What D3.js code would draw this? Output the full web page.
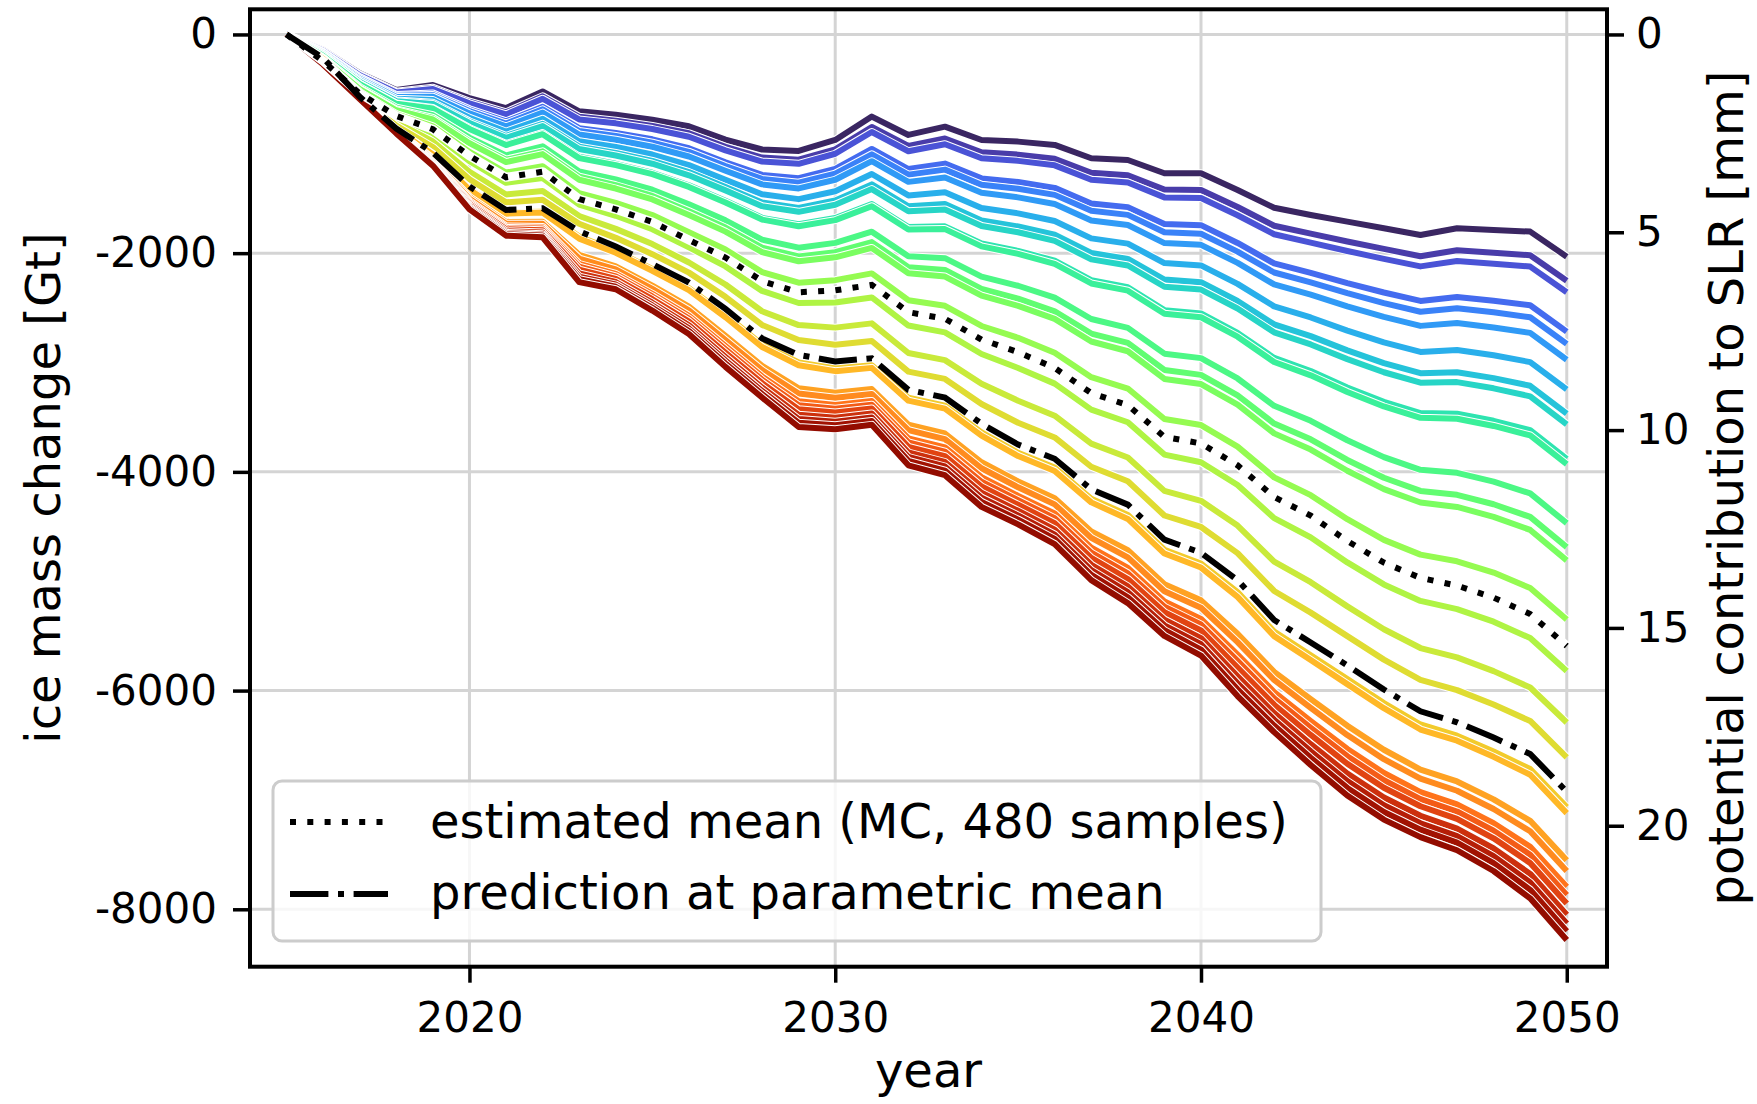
<!DOCTYPE html>
<html>
<head>
<meta charset="utf-8">
<script src="https://cdn.jsdelivr.net/npm/d3@7"></script>
<style>
  body { margin: 0; background: #fff; }
  svg text { font-family: "DejaVu Sans", sans-serif; fill: #000; }
</style>
</head>
<body>
<svg id="chart" width="1757" height="1104"></svg>
<script>
// years of the projection
var years = [2015,2016,2017,2018,2019,2020,2021,2022,2023,2024,2025,2026,2027,2028,2029,2030,2031,2032,
             2033,2034,2035,2036,2037,2038,2039,2040,2041,2042,2043,2044,2045,2046,2047,2048,2049,2050];

// tick labels
var yearTicks = [2020, 2030, 2040, 2050];
var gtTicks = [0, -2000, -4000, -6000, -8000];
var mmTicks = [0, 5, 10, 15, 20];
var GT_PER_MM = 361.8;

// ensemble members, ice mass change [Gt], top (least loss) to bottom
var run01 = [0,-140,-355,-508,-462,-582,-673,-521,-703,-734,-779,-840,-961,-1052,-1065,-965,-751,-919,-843,-965,-980,-1010,-1132,-1148,-1269,-1269,-1422,-1585,-1651,-1712,-1772,-1834,-1772,-1788,-1803,-2032];
var run02 = [0,-147,-366,-523,-487,-615,-712,-566,-753,-788,-837,-904,-1028,-1126,-1145,-1050,-846,-1019,-952,-1078,-1099,-1136,-1265,-1287,-1418,-1422,-1578,-1749,-1821,-1893,-1961,-2028,-1974,-1996,-2019,-2252];
var run03 = [0,-150,-372,-530,-499,-630,-731,-588,-777,-813,-865,-935,-1060,-1162,-1183,-1091,-892,-1068,-1004,-1132,-1156,-1197,-1329,-1353,-1490,-1495,-1653,-1827,-1903,-1980,-2052,-2121,-2071,-2096,-2123,-2358];
var run04 = [0,-160,-391,-554,-540,-684,-795,-662,-857,-900,-959,-1040,-1169,-1284,-1314,-1230,-1047,-1231,-1181,-1316,-1350,-1403,-1545,-1579,-1733,-1744,-1907,-2094,-2180,-2274,-2360,-2437,-2401,-2435,-2476,-2717];
var run05 = [0,-164,-396,-561,-553,-700,-815,-685,-883,-928,-989,-1073,-1203,-1321,-1355,-1273,-1096,-1282,-1236,-1374,-1411,-1467,-1613,-1650,-1809,-1822,-1986,-2177,-2267,-2366,-2457,-2536,-2504,-2541,-2586,-2829];
var run06 = [0,-168,-404,-571,-569,-722,-841,-715,-915,-963,-1027,-1116,-1247,-1371,-1408,-1329,-1159,-1348,-1308,-1448,-1490,-1550,-1701,-1742,-1908,-1924,-2089,-2286,-2379,-2486,-2582,-2665,-2638,-2679,-2729,-2975];
var run07 = [0,-176,-418,-589,-600,-762,-889,-771,-977,-1029,-1098,-1195,-1329,-1462,-1506,-1434,-1276,-1472,-1442,-1587,-1636,-1706,-1865,-1913,-2091,-2112,-2281,-2487,-2588,-2708,-2815,-2903,-2886,-2934,-2996,-3246];
var run08 = [0,-182,-430,-604,-625,-795,-928,-817,-1026,-1083,-1156,-1259,-1396,-1537,-1586,-1519,-1371,-1572,-1551,-1701,-1756,-1832,-1998,-2052,-2241,-2265,-2437,-2651,-2759,-2889,-3005,-3098,-3089,-3143,-3213,-3467];
var run09 = [0,-185,-435,-610,-636,-809,-946,-837,-1048,-1107,-1182,-1288,-1426,-1570,-1622,-1557,-1414,-1617,-1600,-1751,-1809,-1888,-2057,-2113,-2307,-2333,-2506,-2724,-2835,-2969,-3089,-3184,-3179,-3236,-3309,-3565];
var run10 = [0,-195,-451,-631,-672,-856,-1002,-902,-1119,-1183,-1265,-1380,-1521,-1677,-1736,-1679,-1550,-1761,-1755,-1912,-1979,-2069,-2247,-2312,-2521,-2552,-2729,-2958,-3078,-3228,-3359,-3462,-3468,-3533,-3618,-3880];
var run11 = [0,-196,-454,-634,-678,-864,-1011,-912,-1131,-1195,-1278,-1394,-1536,-1693,-1754,-1698,-1571,-1783,-1780,-1938,-2006,-2098,-2277,-2343,-2554,-2586,-2764,-2995,-3117,-3269,-3402,-3506,-3514,-3580,-3667,-3930];
var run12 = [0,-212,-482,-670,-739,-943,-1106,-1023,-1252,-1326,-1420,-1552,-1700,-1876,-1950,-1906,-1804,-2029,-2046,-2214,-2298,-2406,-2602,-2683,-2919,-2960,-3146,-3396,-3533,-3711,-3865,-3981,-4009,-4089,-4197,-4469];
var run13 = [0,-218,-493,-685,-764,-976,-1145,-1069,-1301,-1379,-1477,-1616,-1766,-1950,-2030,-1991,-1899,-2128,-2154,-2327,-2416,-2532,-2735,-2821,-3068,-3113,-3301,-3558,-3702,-3891,-4054,-4174,-4210,-4296,-4412,-4688];
var run14 = [0,-222,-499,-693,-778,-994,-1167,-1094,-1329,-1409,-1509,-1651,-1803,-1991,-2074,-2038,-1952,-2184,-2214,-2389,-2482,-2601,-2808,-2897,-3150,-3197,-3386,-3648,-3796,-3990,-4158,-4280,-4321,-4411,-4531,-4809];
var run15 = [0,-238,-527,-729,-840,-1074,-1263,-1205,-1451,-1540,-1651,-1809,-1967,-2173,-2270,-2247,-2185,-2430,-2481,-2666,-2774,-2911,-3134,-3238,-3516,-3572,-3769,-4050,-4213,-4433,-4622,-4757,-4818,-4921,-5062,-5350];
var run16 = [0,-240,-545,-765,-904,-1158,-1357,-1313,-1556,-1658,-1781,-1947,-2121,-2345,-2456,-2452,-2405,-2662,-2724,-2922,-3050,-3193,-3431,-3546,-3842,-3912,-4120,-4423,-4599,-4828,-5029,-5180,-5255,-5370,-5520,-5821];
var run17 = [0,-229,-556,-805,-979,-1257,-1463,-1431,-1660,-1778,-1917,-2085,-2287,-2531,-2658,-2681,-2642,-2913,-2978,-3194,-3349,-3486,-3742,-3868,-4174,-4265,-4491,-4820,-5009,-5230,-5439,-5611,-5696,-5822,-5972,-6292];
var run18 = [0,-222,-563,-833,-1030,-1324,-1535,-1511,-1731,-1860,-2009,-2178,-2399,-2656,-2795,-2837,-2803,-3083,-3150,-3379,-3551,-3685,-3953,-4086,-4399,-4504,-4743,-5089,-5287,-5502,-5717,-5903,-5996,-6128,-6278,-6611];
var run19 = [0,-221,-572,-865,-1093,-1412,-1630,-1618,-1848,-1981,-2144,-2319,-2565,-2836,-2999,-3055,-3024,-3322,-3394,-3639,-3826,-3961,-4246,-4394,-4712,-4838,-5100,-5461,-5677,-5894,-6114,-6310,-6412,-6557,-6717,-7066];
var run20 = [0,-224,-573,-867,-1097,-1420,-1639,-1628,-1867,-1996,-2161,-2338,-2586,-2858,-3025,-3079,-3049,-3349,-3422,-3669,-3855,-3992,-4279,-4430,-4747,-4875,-5143,-5502,-5721,-5941,-6161,-6356,-6458,-6606,-6770,-7120];
var run21 = [0,-243,-579,-881,-1136,-1487,-1714,-1713,-2015,-2121,-2297,-2488,-2755,-3030,-3235,-3277,-3243,-3569,-3649,-3912,-4088,-4241,-4544,-4716,-5027,-5175,-5481,-5829,-6078,-6321,-6541,-6722,-6831,-6995,-7191,-7552];
var run22 = [0,-247,-581,-884,-1144,-1502,-1731,-1732,-2049,-2149,-2327,-2522,-2794,-3069,-3283,-3322,-3287,-3619,-3700,-3967,-4141,-4297,-4604,-4782,-5091,-5243,-5557,-5903,-6159,-6407,-6627,-6805,-6916,-7083,-7286,-7650];
var run23 = [0,-254,-583,-889,-1157,-1525,-1756,-1760,-2099,-2190,-2373,-2572,-2850,-3127,-3354,-3388,-3352,-3693,-3776,-4048,-4219,-4381,-4693,-4878,-5185,-5344,-5671,-6013,-6279,-6534,-6754,-6928,-7041,-7213,-7428,-7795];
var run24 = [0,-257,-584,-891,-1164,-1537,-1769,-1775,-2124,-2212,-2396,-2598,-2880,-3157,-3390,-3422,-3386,-3731,-3815,-4090,-4259,-4424,-4739,-4928,-5234,-5396,-5729,-6070,-6341,-6600,-6820,-6992,-7106,-7281,-7501,-7870];
var run25 = [0,-260,-585,-894,-1171,-1549,-1782,-1790,-2151,-2235,-2421,-2625,-2910,-3188,-3428,-3458,-3421,-3771,-3856,-4134,-4301,-4469,-4787,-4980,-5284,-5450,-5790,-6129,-6406,-6669,-6889,-7058,-7173,-7351,-7577,-7948];
var run26 = [0,-265,-587,-897,-1180,-1564,-1800,-1810,-2186,-2264,-2453,-2660,-2950,-3228,-3478,-3505,-3467,-3823,-3910,-4191,-4356,-4528,-4849,-5047,-5351,-5521,-5870,-6206,-6490,-6758,-6978,-7145,-7262,-7443,-7676,-8050];
var run27 = [0,-268,-588,-900,-1187,-1577,-1814,-1826,-2214,-2287,-2478,-2688,-2981,-3260,-3517,-3541,-3503,-3864,-3951,-4236,-4399,-4574,-4898,-5100,-5403,-5576,-5933,-6266,-6556,-6828,-7048,-7213,-7331,-7515,-7754,-8130];
var run28 = [0,-272,-589,-902,-1193,-1588,-1826,-1839,-2238,-2307,-2500,-2712,-3009,-3288,-3551,-3573,-3534,-3899,-3988,-4275,-4437,-4614,-4941,-5147,-5448,-5625,-5988,-6320,-6614,-6890,-7110,-7272,-7391,-7578,-7822,-8200];
var run29 = [0,-275,-590,-905,-1200,-1600,-1840,-1855,-2265,-2330,-2525,-2740,-3040,-3320,-3590,-3610,-3570,-3940,-4030,-4320,-4480,-4660,-4990,-5200,-5500,-5680,-6050,-6380,-6680,-6960,-7180,-7340,-7460,-7650,-7900,-8280];

// estimated mean (MC) and prediction at parametric mean
var meanMC = [0,-245,-540,-745,-867,-1110,-1306,-1255,-1505,-1599,-1715,-1880,-2040,-2255,-2358,-2340,-2290,-2540,-2600,-2790,-2905,-3050,-3280,-3390,-3680,-3740,-3940,-4230,-4400,-4632,-4830,-4970,-5040,-5150,-5300,-5592];
var paramMean = [0,-215,-570,-860,-1080,-1390,-1605,-1590,-1800,-1940,-2100,-2270,-2510,-2780,-2930,-2990,-2961,-3250,-3320,-3560,-3750,-3880,-4160,-4300,-4620,-4740,-4990,-5354,-5560,-5770,-5990,-6190,-6290,-6430,-6580,-6925];

var runs = [run01,run02,run03,run04,run05,run06,run07,run08,run09,run10,run11,run12,run13,run14,run15,
            run16,run17,run18,run19,run20,run21,run22,run23,run24,run25,run26,run27,run28,run29];

var svg = d3.select("#chart");
var plotLeft = 250, plotRight = 1607, plotTop = 9.3, plotBottom = 966.7;

var x = d3.scaleLinear().domain([2014, 2051.1]).range([plotLeft, plotRight]);
var y = d3.scaleLinear().domain([230, -8525]).range([plotTop, plotBottom]);
var yMM = d3.scaleLinear().domain([-230 / GT_PER_MM, 8525 / GT_PER_MM]).range([plotTop, plotBottom]);

var colorT = d3.scaleLinear().domain([0, runs.length - 1]).range([0.025, 0.975]);

// grid
var grid = svg.append("g");
grid.selectAll(".gx").data(yearTicks).enter().append("line")
    .attr("x1", function(d) { return x(d); }).attr("x2", function(d) { return x(d); })
    .attr("y1", plotTop).attr("y2", plotBottom)
    .attr("stroke", "#d4d4d4").attr("stroke-width", 3);
grid.selectAll(".gy").data(gtTicks).enter().append("line")
    .attr("x1", plotLeft).attr("x2", plotRight)
    .attr("y1", function(d) { return y(d); }).attr("y2", function(d) { return y(d); })
    .attr("stroke", "#d4d4d4").attr("stroke-width", 3);

var line = d3.line()
    .x(function(d, i) { return x(years[i]); })
    .y(function(d) { return y(d); });

// ensemble, each with a thin white edge
var ens = svg.append("g").attr("fill", "none").attr("stroke-linejoin", "round");
runs.forEach(function(r, i) {
  ens.append("path").attr("d", line(r)).attr("stroke", "#fff").attr("stroke-width", 8);
  ens.append("path").attr("d", line(r)).attr("stroke", d3.interpolateTurbo(colorT(i))).attr("stroke-width", 6);
});

// mean and parametric prediction
svg.append("path").attr("d", line(meanMC)).attr("fill", "none")
    .attr("stroke", "#fff").attr("stroke-width", 9).attr("stroke-linejoin", "round");
svg.append("path").attr("d", line(meanMC)).attr("fill", "none")
    .attr("stroke", "#000").attr("stroke-width", 6).attr("stroke-dasharray", "6,11.3");
svg.append("path").attr("d", line(paramMean)).attr("fill", "none")
    .attr("stroke", "#000").attr("stroke-width", 6).attr("stroke-dasharray", "38.4,9.6,6,9.6");

// axes
function styleAxis(g, size) {
  g.select(".domain").remove();
  g.selectAll(".tick line").attr("stroke", "#000").attr("stroke-width", 3.5);
  g.selectAll(".tick text").style("font-size", size + "px").style("font-family", "DejaVu Sans");
}

var gx = svg.append("g").attr("transform", "translate(0," + plotBottom + ")")
    .call(d3.axisBottom(x).tickValues(yearTicks).tickFormat(function(d) { return String(d); })
      .tickSize(16).tickPadding(19));
styleAxis(gx, 42);

var gy = svg.append("g").attr("transform", "translate(" + plotLeft + ",0)")
    .call(d3.axisLeft(y).tickValues(gtTicks).tickFormat(function(d) { return String(d); })
      .tickSize(17).tickPadding(16));
styleAxis(gy, 42);

var gy2 = svg.append("g").attr("transform", "translate(" + plotRight + ",0)")
    .call(d3.axisRight(yMM).tickValues(mmTicks).tickFormat(function(d) { return String(d); })
      .tickSize(17).tickPadding(12));
styleAxis(gy2, 42);

// frame
svg.append("rect").attr("x", plotLeft).attr("y", plotTop)
    .attr("width", plotRight - plotLeft).attr("height", plotBottom - plotTop)
    .attr("fill", "none").attr("stroke", "#000").attr("stroke-width", 4);

// axis labels
svg.append("text").attr("x", (plotLeft + plotRight) / 2).attr("y", 1087)
    .attr("text-anchor", "middle").style("font-size", "48px").text("year");
svg.append("text").attr("transform", "translate(60," + (plotTop + plotBottom) / 2 + ") rotate(-90)")
    .attr("text-anchor", "middle").style("font-size", "48px").text("ice mass change [Gt]");
svg.append("text").attr("transform", "translate(1743," + (plotTop + plotBottom) / 2 + ") rotate(-90)")
    .attr("text-anchor", "middle").style("font-size", "48px").text("potential contribution to SLR [mm]");

// legend
var lg = svg.append("g");
lg.append("rect").attr("x", 273).attr("y", 781).attr("width", 1048).attr("height", 160)
    .attr("rx", 9).attr("fill", "#fff").attr("fill-opacity", 0.8)
    .attr("stroke", "#cccccc").attr("stroke-width", 3);
lg.append("line").attr("x1", 290).attr("x2", 388).attr("y1", 822).attr("y2", 822)
    .attr("stroke", "#000").attr("stroke-width", 6).attr("stroke-dasharray", "6,11.3");
lg.append("line").attr("x1", 290).attr("x2", 388).attr("y1", 894).attr("y2", 894)
    .attr("stroke", "#000").attr("stroke-width", 6).attr("stroke-dasharray", "38.4,9.6,6,9.6");
lg.append("text").attr("x", 430).attr("y", 838).style("font-size", "48px")
    .text("estimated mean (MC, 480 samples)");
lg.append("text").attr("x", 430).attr("y", 909).style("font-size", "48px")
    .text("prediction at parametric mean");
</script>
</body>
</html>
